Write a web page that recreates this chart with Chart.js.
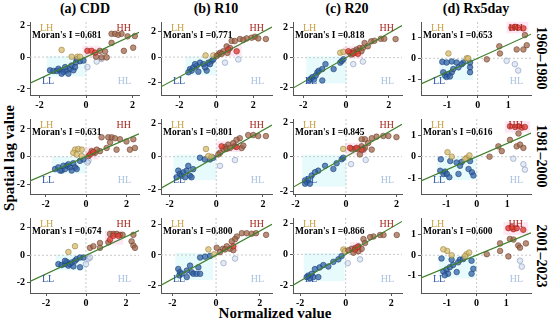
<!DOCTYPE html>
<html>
<head>
<meta charset="utf-8">
<script src="https://cdn.jsdelivr.net/npm/chart.js@4.4.0/dist/chart.umd.min.js"></script>
<style>
  body { margin: 0; background: #fff; width: 550px; height: 321px; overflow: hidden; position: relative; font-family: "Liberation Serif", "Times New Roman", serif; }
  canvas { position: absolute; }
  .lbl { position: absolute; font-weight: bold; color: #000; white-space: nowrap; }
</style>
</head>
<body>
<script>
// ---- data ----
var indices = ['(a) CDD', '(b) R10', '(c) R20', '(d) Rx5day'];
var periods = ['1960\u20131980', '1981\u20132000', '2001\u20132023'];
var moranI = [
  [0.681, 0.771, 0.818, 0.653],
  [0.631, 0.801, 0.845, 0.616],
  [0.674, 0.800, 0.866, 0.600]
];
var xTicks = [[-2, 0, 2], [-2, 0, 2], [-2, 0, 2], [-1, 0, 1]];
var yTicks = xTicks;

// each panel: hh = high-high, hr = significant high-high, lh, ll, hl
var cdd_1 = {
  hh: [[1.10,1.46],[1.25,1.46],[1.39,1.40],[1.53,1.46],[1.79,1.30],[2.10,1.32],[1.10,0.89],[2.03,0.59],[1.63,0.39],[0.82,0.35],[0.67,-0.02],[0.89,-0.02],[0.43,0.02],[0.60,0.39]],
  hr: [[0.06,0.39],[0.24,0.39],[0.39,0.28]],
  lh: [[-1.05,0.45],[-0.37,0.02],[-0.26,0.02],[-0.62,0.02]],
  ll: [[-1.55,-0.83],[-1.40,-0.87],[-1.26,-0.87],[-1.12,-0.83],[-0.97,-0.93],[-0.83,-0.83],[-0.69,-0.73],[-0.54,-0.83],[-1.19,-0.73],[-0.90,-0.63],[-0.62,-0.53],[-0.47,-0.63],[-0.76,-1.04],[-1.05,-1.04],[-0.43,-0.33],[-0.26,-0.26],[-0.40,-0.12],[-0.11,-0.22]],
  hl: [[0.46,-0.28],[0.06,-0.63],[0.67,-0.12]]
};
var r10_1 = {
  hh: [[1.28,1.40],[1.64,1.45],[1.91,1.50],[2.09,1.58],[2.27,1.45],[2.68,1.40],[1.46,1.33],[0.83,1.25],[1.00,1.25],[0.56,0.83],[0.74,0.70],[0.38,0.45],[0.20,0.33],[0.11,0.20],[0.29,0.25],[0.60,0.33],[0.02,0.08]],
  hr: [[0.65,0.58],[1.10,0.45]],
  lh: [[-0.58,0.13],[-0.16,0.13]],
  ll: [[-1.42,-0.93],[-1.33,-1.05],[-1.24,-0.80],[-1.06,-0.68],[-0.97,-1.13],[-0.88,-0.43],[-0.70,-0.55],[-0.52,-1.05],[-0.61,-0.80],[-0.43,-0.43],[-0.25,-0.30],[-0.34,-0.55],[-1.15,-0.55],[-1.51,-1.18],[-0.16,-0.18]],
  hl: [[0.47,-0.43],[1.19,-0.18]]
};
var r20_1 = {
  hh: [[1.63,1.26],[1.79,1.26],[2.32,1.24],[1.18,1.09],[1.33,1.13],[0.87,0.98],[1.02,0.76],[0.64,0.65],[0.79,0.65],[0.49,0.54],[0.34,0.43],[0.18,0.33],[0.41,0.33],[0.56,0.43],[0.72,0.43],[0.26,0.22]],
  hr: [[0.11,0.43],[0.34,0.28],[0.56,0.26]],
  lh: [[-0.27,0.33],[-0.12,0.39]],
  ll: [[-1.72,-1.52],[-1.65,-1.41],[-1.57,-1.30],[-1.50,-1.46],[-1.34,-0.98],[-1.27,-0.87],[-1.11,-0.76],[-0.96,-0.43],[-1.11,-1.52],[-0.58,-0.76],[-0.27,-0.33],[-0.20,-0.22],[-0.12,-0.11],[-1.42,-1.20]],
  hl: [[0.34,-0.43],[0.79,-0.26]]
};
var rx5_1 = {
  hh: [[0.71,0.57],[0.73,0.23],[1.28,0.42],[1.50,0.42],[1.61,0.62],[1.55,1.10],[0.30,-0.05]],
  hr: [[1.11,1.45],[1.22,1.49],[1.33,1.45],[1.50,1.42]],
  lh: [[-0.96,0.23],[-0.36,0.00],[-0.31,0.00]],
  ll: [[-1.16,-0.17],[-1.02,-0.20],[-0.85,-0.15],[-0.69,-0.20],[-0.47,-0.20],[-0.25,-0.20],[-0.25,-0.43],[-0.25,-0.66],[-1.13,-0.66],[-1.07,-0.82],[-0.96,-0.74],[-0.85,-0.66],[-0.80,-0.51],[-0.63,-0.43],[-0.52,-0.28],[-1.02,-0.89],[-0.91,-0.86]],
  hl: [[0.95,-0.12],[1.22,-0.28],[1.33,-0.58]]
};
var cdd_2 = {
  hh: [[0.77,1.40],[1.10,1.40],[1.27,1.40],[1.43,1.33],[1.68,1.26],[2.00,1.10],[2.34,1.26],[2.17,0.51],[2.42,0.63],[1.19,1.03],[1.02,0.63],[0.69,0.40],[0.44,0.28],[0.28,0.40],[0.53,0.51],[1.51,0.51],[0.12,0.05]],
  hr: [[0.20,0.16],[0.36,0.33]],
  lh: [[-0.54,0.51],[-0.38,0.56],[-0.21,0.51],[-0.63,0.28],[-0.46,0.16],[-0.21,0.05]],
  ll: [[-1.53,-0.89],[-1.37,-0.77],[-1.20,-1.00],[-1.04,-0.89],[-0.95,-0.65],[-0.79,-0.77],[-0.71,-1.00],[-0.54,-0.77],[-0.46,-0.89],[-1.12,-0.65],[-0.87,-0.54],[-1.28,-1.00],[-0.63,-0.47],[-0.30,-0.30],[-0.13,-0.19]],
  hl: [[0.12,-0.30],[0.07,-0.42]]
};
var r10_2 = {
  hh: [[1.37,1.31],[1.59,1.31],[1.80,1.25],[2.13,1.25],[1.01,1.12],[0.87,1.02],[0.73,0.82],[0.51,0.73],[0.37,0.59],[0.30,0.47],[0.44,0.47],[0.59,0.53],[0.80,0.63],[1.09,0.53],[1.16,0.67],[0.16,0.24],[0.09,0.14]],
  hr: [[0.23,0.63],[0.87,0.59]],
  lh: [[-0.44,0.47],[-0.34,0.04],[-0.20,0.00]],
  ll: [[-1.63,-0.84],[-1.56,-1.04],[-1.49,-1.14],[-1.41,-0.94],[-1.27,-0.84],[-1.13,-1.14],[-1.06,-1.24],[-1.20,-0.55],[-0.99,-0.75],[-0.70,-0.06],[-0.49,-0.16],[-0.27,-0.16],[-0.13,-0.06],[-1.70,-1.24],[-1.34,-1.24]],
  hl: [[0.16,-0.55],[0.80,-0.20]]
};
var r20_2 = {
  hh: [[1.68,1.20],[1.48,1.20],[2.00,1.13],[1.21,1.16],[1.02,1.07],[0.75,1.01],[0.62,1.01],[0.88,0.79],[0.62,0.60],[0.36,0.45],[0.49,0.45],[0.22,0.45],[0.75,0.51],[1.02,0.41],[0.55,0.13],[0.69,0.41]],
  hr: [[0.16,0.51],[0.42,0.51],[0.62,0.41]],
  lh: [[-0.11,0.45]],
  ll: [[-1.62,-1.37],[-1.56,-1.46],[-1.49,-1.31],[-1.43,-1.56],[-1.62,-1.56],[-1.36,-1.09],[-1.10,-0.81],[-0.83,-0.53],[-0.50,-0.71],[-0.37,-0.38],[-0.17,-0.15],[-0.11,-0.06],[-1.23,-0.90]],
  hl: [[0.20,-0.43],[0.78,-0.19]]
};
var rx5_2 = {
  hh: [[0.71,0.48],[0.82,0.26],[1.09,0.78],[1.31,0.48],[1.42,0.56],[1.53,0.41],[1.37,1.08],[0.42,0.00]],
  hr: [[1.09,1.41],[1.26,1.38],[1.37,1.41],[1.48,1.35],[1.58,1.38]],
  lh: [[-0.96,0.21],[-0.82,0.00],[-0.33,-0.05],[-0.24,0.06],[-0.38,-0.12]],
  ll: [[-1.18,-0.12],[-0.87,-0.20],[-0.66,-0.27],[-0.49,-0.24],[-0.22,-0.20],[-0.27,-0.57],[-0.16,-0.72],[-0.11,-0.87],[-1.20,-0.65],[-1.09,-0.80],[-1.04,-0.69],[-0.98,-0.80],[-0.90,-0.95],[-0.60,-0.80],[-0.55,-0.42]],
  hl: [[1.20,-0.09],[1.53,-0.35],[1.58,-0.60]]
};
var cdd_3 = {
  hh: [[1.20,1.55],[1.37,1.55],[1.53,1.55],[1.70,1.48],[1.83,1.48],[2.37,1.48],[2.28,1.01],[2.37,0.71],[2.45,0.54],[1.12,0.94],[0.70,0.89],[0.70,0.54],[0.20,0.54],[0.37,0.66]],
  hr: [[1.37,1.41],[1.62,1.41],[1.20,1.13]],
  lh: [[-0.88,0.24],[-0.55,0.66]],
  ll: [[-1.38,-0.64],[-1.22,-0.71],[-1.05,-0.64],[-0.97,-0.47],[-0.88,-0.75],[-0.80,-0.64],[-0.63,-0.80],[-0.72,-0.52],[-0.55,-0.40],[-0.47,-0.28],[-0.30,-0.16],[-0.30,-0.87],[-0.13,-0.16],[-1.05,-0.40]],
  hl: [[0.12,-0.24],[0.20,-0.16],[0.00,-0.64]]
};
var r10_3 = {
  hh: [[1.18,1.45],[1.40,1.45],[1.63,1.41],[1.83,1.45],[2.29,1.34],[0.95,1.23],[0.87,1.06],[0.72,0.91],[0.49,0.58],[0.64,0.41],[0.79,0.32],[0.31,0.41],[0.18,0.19],[0.41,0.37],[0.03,0.48]],
  hr: [[0.79,0.58]],
  lh: [[-0.35,0.37],[-0.09,0.04]],
  ll: [[-1.73,-0.93],[-1.65,-1.15],[-1.68,-1.36],[-1.57,-1.25],[-1.34,-1.04],[-1.19,-0.71],[-1.11,-1.15],[-1.04,-1.25],[-0.89,-1.25],[-0.73,-1.25],[-0.73,-0.17],[-0.50,-0.11],[-0.27,-0.06],[-1.34,-1.47],[-0.81,-0.82]],
  hl: [[0.34,-0.54],[0.87,-0.24]]
};
var r20_3 = {
  hh: [[1.51,1.26],[1.66,1.26],[2.24,1.26],[1.22,1.16],[1.07,1.12],[0.78,0.99],[0.85,0.74],[0.56,0.53],[0.41,0.42],[0.26,0.36],[0.70,0.36],[0.56,0.21],[0.34,0.11],[0.12,0.27]],
  hr: [[0.41,0.32],[0.53,0.48]],
  lh: [[-0.10,0.32],[-0.03,0.21]],
  ll: [[-1.64,-1.37],[-1.57,-1.54],[-1.49,-1.26],[-1.42,-1.47],[-1.20,-1.47],[-1.35,-0.95],[-1.14,-0.84],[-0.98,-0.69],[-0.76,-0.78],[-0.54,-0.48],[-0.32,-0.32],[-0.18,-0.11],[-1.71,-1.47]],
  hl: [[0.09,-0.57],[0.63,-0.32]]
};
var rx5_3 = {
  hh: [[0.79,0.58],[1.12,0.80],[1.24,0.77],[1.07,-0.06],[1.40,0.48],[1.46,0.37],[1.66,0.58],[0.79,0.21],[0.34,0.05]],
  hr: [[1.07,1.33],[1.24,1.28],[1.35,1.33],[1.18,1.38],[1.57,1.25]],
  lh: [[-0.99,0.21],[-0.84,0.00],[-0.34,0.05],[-0.25,0.13],[-0.39,-0.06],[-1.12,0.29]],
  ll: [[-1.18,-0.16],[-0.84,-0.22],[-0.56,-0.22],[-0.45,-0.19],[-0.17,-0.27],[-0.11,-0.67],[-0.17,-0.91],[-1.12,-0.80],[-1.01,-0.70],[-0.96,-0.91],[-0.90,-0.59],[-0.79,-0.48],[-0.67,-0.83],[-0.62,-0.35],[-1.07,-0.99]],
  hl: [[1.46,-0.27],[1.52,-0.56]]
};

var panels = [
  [cdd_1, r10_1, r20_1, rx5_1],
  [cdd_2, r10_2, r20_2, rx5_2],
  [cdd_3, r10_3, r20_3, rx5_3]
];

// ---- layout ----
var colRect = [[30, 139], [161, 272], [293, 402], [421, 531]];
var rowRect = [[20, 95], [117, 194], [216, 293]];
var xRange = [
  [[-2.41, 2.28], [-2.99, 3.01], [-2.48, 2.62], [-1.86, 1.75]],
  [[-2.77, 2.62], [-2.37, 2.39], [-2.10, 2.22], [-1.83, 1.78]],
  [[-2.80, 2.65], [-2.52, 2.56], [-2.31, 2.47], [-1.87, 1.83]]
];
var yRange = [
  [[-2.38, 2.20], [-2.94, 2.72], [-2.49, 2.38], [-1.74, 1.72]],
  [[-2.69, 2.72], [-2.25, 2.28], [-2.16, 2.18], [-1.73, 1.75]],
  [[-2.73, 2.70], [-2.53, 2.46], [-2.50, 2.36], [-1.86, 1.83]]
];

var FONT = '"Liberation Serif", "Times New Roman", serif';
var styles = {
  hh: { bg: 'rgba(160,100,70,0.72)', bd: 'rgba(110,65,45,0.85)' },
  hr: { bg: 'rgba(225,65,55,0.8)', bd: 'rgba(150,35,30,0.85)' },
  lh: { bg: 'rgba(215,188,110,0.75)', bd: 'rgba(150,125,60,0.85)' },
  ll: { bg: 'rgba(50,100,170,0.75)', bd: 'rgba(30,60,115,0.85)' },
  hl: { bg: 'rgba(200,212,235,0.5)', bd: 'rgba(130,150,185,0.85)' }
};
var padL = 28, padT = 6, padR = 6, padB = 17;

function toXY(arr) {
  return arr.map(function (p) { return { x: p[0], y: p[1] }; });
}

function addLabel(text, css) {
  var d = document.createElement('div');
  d.className = 'lbl';
  d.textContent = text;
  d.style.cssText += css;
  document.body.appendChild(d);
}

function makePlugin(panel, I) {
  return {
    id: 'quad',
    beforeDatasetsDraw: function (chart) {
      var ctx = chart.ctx, a = chart.chartArea;
      var xs = chart.scales.x, ys = chart.scales.y;
      ctx.save();
      function box(pts, color, pad) {
        if (!pts.length) return;
        var px = pts.map(function (p) { return xs.getPixelForValue(p[0]); });
        var py = pts.map(function (p) { return ys.getPixelForValue(p[1]); });
        var x1 = Math.min.apply(null, px) - pad, x2 = Math.max.apply(null, px) + pad;
        var y1 = Math.min.apply(null, py) - pad, y2 = Math.max.apply(null, py) + pad;
        ctx.fillStyle = color;
        ctx.fillRect(x1, y1, x2 - x1, y2 - y1);
      }
      box(panel.hr, 'rgba(255,140,200,0.22)', 5);
      box(panel.ll, 'rgba(120,235,240,0.18)', 3);
      var x0 = xs.getPixelForValue(0), y0 = ys.getPixelForValue(0);
      ctx.strokeStyle = '#c8c8c8';
      ctx.lineWidth = 1;
      ctx.setLineDash([2, 2]);
      ctx.beginPath();
      ctx.moveTo(x0, a.top); ctx.lineTo(x0, a.bottom);
      ctx.moveTo(a.left, y0); ctx.lineTo(a.right, y0);
      ctx.stroke();
      ctx.restore();
    },
    afterDatasetsDraw: function (chart) {
      var ctx = chart.ctx, a = chart.chartArea;
      ctx.save();
      ctx.textBaseline = 'middle';
      ctx.font = '10px ' + FONT;
      ctx.textAlign = 'left';
      ctx.fillStyle = '#c9a043';
      ctx.fillText('LH', a.left + 10, a.top + 6);
      ctx.fillStyle = '#2d55a5';
      ctx.fillText('LL', a.left + 12, a.bottom - 14);
      ctx.textAlign = 'right';
      ctx.fillStyle = '#a8261c';
      ctx.fillText('HH', a.right - 8, a.top + 6);
      ctx.fillStyle = '#a9c2df';
      ctx.fillText('HL', a.right - 8, a.bottom - 14);
      ctx.textAlign = 'left';
      ctx.fillStyle = '#000';
      ctx.font = 'bold 9.5px ' + FONT;
      ctx.fillText("Moran's I =" + I.toFixed(3), a.left + 2, a.top + 14);
      ctx.restore();
    }
  };
}

function drawPanel(r, c) {
  var panel = panels[r][c];
  var I = moranI[r][c];
  var xr = xRange[r][c], yr = yRange[r][c];
  var L = colRect[c][0], R = colRect[c][1], T = rowRect[r][0], B = rowRect[r][1];
  var cv = document.createElement('canvas');
  cv.width = (R - L) + padL + padR;
  cv.height = (B - T) + padT + padB;
  cv.style.left = (L - padL) + 'px';
  cv.style.top = (T - padT) + 'px';
  document.body.appendChild(cv);

  var datasets = [{
    data: [{ x: xr[0], y: I * xr[0] }, { x: xr[1], y: I * xr[1] }],
    showLine: true, pointRadius: 0, borderColor: '#3f7f2c', borderWidth: 1.2
  }];
  ['hr', 'hh', 'lh', 'll', 'hl'].forEach(function (k) {
    datasets.push({
      data: toXY(panel[k]),
      pointRadius: 2.8,
      backgroundColor: styles[k].bg,
      borderColor: styles[k].bd,
      borderWidth: 0.7
    });
  });

  function axis(range, ticks, isX) {
    return {
      type: 'linear', min: range[0], max: range[1],
      afterBuildTicks: function (s) { s.ticks = ticks.map(function (v) { return { value: v }; }); },
      afterFit: function (s) { if (isX) { s.height = padB; } else { s.width = padL; } },
      grid: { drawOnChartArea: false, tickLength: 3, color: '#555' },
      border: { color: '#555', width: 1 },
      ticks: { color: '#000', padding: isX ? 1 : 2, maxRotation: 0, font: { family: FONT, weight: 'bold', size: 10 } }
    };
  }

  new Chart(cv, {
    type: 'scatter',
    data: { datasets: datasets },
    options: {
      responsive: false, animation: false, devicePixelRatio: 1,
      layout: { padding: { top: padT, right: padR, left: 0, bottom: 0 } },
      plugins: { legend: { display: false }, tooltip: { enabled: false } },
      scales: { x: axis(xr, xTicks[c], true), y: axis(yr, yTicks[c], false) }
    },
    plugins: [makePlugin(panel, I)]
  });
}

var colCenter = [85, 216, 347, 476];
indices.forEach(function (t, c) {
  addLabel(t, 'font-size:14px;top:1px;left:' + colCenter[c] + 'px;transform:translateX(-50%);');
});
var rowCenter = [58, 156, 256];
periods.forEach(function (p, r) {
  addLabel(p, 'font-size:14px;left:541px;top:' + rowCenter[r] + 'px;transform:translate(-50%,-50%) rotate(90deg);');
});
addLabel('Spatial lag value', 'font-size:15px;left:9px;top:158px;transform:translate(-50%,-50%) rotate(-90deg);');
addLabel('Normalized value', 'font-size:15px;left:275px;top:313px;transform:translate(-50%,-50%);');

for (var r = 0; r < 3; r++) {
  for (var c = 0; c < 4; c++) {
    drawPanel(r, c);
  }
}
</script>
</body>
</html>
